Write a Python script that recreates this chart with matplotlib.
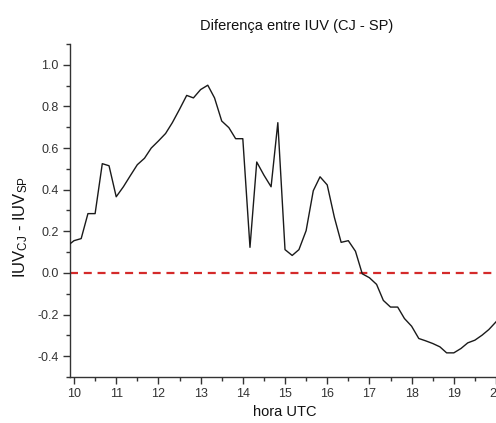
import matplotlib
matplotlib.use("Agg")
import matplotlib.pyplot as plt
from matplotlib.ticker import MultipleLocator

plt.rcParams['font.family'] = ['Liberation Sans', 'DejaVu Sans']
plt.rcParams['mathtext.fontset'] = 'custom'
plt.rcParams['mathtext.rm'] = 'Liberation Sans'
plt.rcParams['mathtext.it'] = 'Liberation Sans'

hours = [9.83, 10.00, 10.17, 10.33, 10.50, 10.67, 10.83, 11.00, 11.17, 11.33,
         11.50, 11.67, 11.83, 12.00, 12.17, 12.33, 12.50, 12.67, 12.83, 13.00,
         13.17, 13.33, 13.50, 13.67, 13.83, 14.00, 14.17, 14.33, 14.50, 14.67,
         14.83, 15.00, 15.17, 15.33, 15.50, 15.67, 15.83, 16.00, 16.17, 16.33,
         16.50, 16.67, 16.83, 17.00, 17.17, 17.33, 17.50, 17.67, 17.83, 18.00,
         18.17, 18.33, 18.50, 18.67, 18.83, 19.00, 19.17, 19.33, 19.50, 19.67,
         19.83, 20.00, 20.17]
diff_iuv = [0.128, 0.155, 0.165, 0.285, 0.285, 0.525, 0.515, 0.366, 0.414, 0.466,
            0.520, 0.551, 0.600, 0.634, 0.670, 0.722, 0.786, 0.853, 0.841, 0.881,
            0.902, 0.841, 0.730, 0.698, 0.645, 0.645, 0.123, 0.533, 0.470, 0.414,
            0.722, 0.112, 0.084, 0.112, 0.203, 0.395, 0.462, 0.423, 0.267, 0.147,
            0.155, 0.104, -0.004, -0.023, -0.055, -0.132, -0.164, -0.164, -0.219, -0.256,
            -0.315, -0.326, -0.339, -0.355, -0.384, -0.384, -0.363, -0.336, -0.323, -0.299,
            -0.272, -0.235, -0.190]
zero_level = 0.0

title = "Diferença entre IUV (CJ - SP)"
xlabel = "hora UTC"
ylabel = r"IUV$_{\mathrm{CJ}}$ - IUV$_{\mathrm{SP}}$"

W, H = 496, 423
fig = plt.figure(figsize=(W / 100, H / 100), dpi=100)
xmin, xmax = 9.905, 20.3
px_per_hour = 42.2
left_px, bottom_px, top_px = 70, 377, 44
ax = fig.add_axes([left_px / W, (H - bottom_px) / H,
                   (xmax - xmin) * px_per_hour / W, (bottom_px - top_px) / H])

ax.plot(hours, diff_iuv, color='#1a1a1a', lw=1.0, zorder=3)
ax.axhline(zero_level, color='#d42a2a', lw=1.6, dashes=(3.6, 2.6), zorder=2)

ax.set_xlim(xmin, xmax)
ax.set_ylim(-0.5, 1.1)
ax.xaxis.set_major_locator(MultipleLocator(1))
ax.xaxis.set_minor_locator(MultipleLocator(0.5))
ax.yaxis.set_major_locator(MultipleLocator(0.2))
ax.yaxis.set_minor_locator(MultipleLocator(0.1))
ax.yaxis.set_major_formatter(matplotlib.ticker.FormatStrFormatter('%.1f'))

for s in ['top', 'right']:
    ax.spines[s].set_visible(False)
for s in ['left', 'bottom']:
    ax.spines[s].set_color('#333333')
    ax.spines[s].set_linewidth(1.0)

ax.tick_params(which='major', direction='out', length=5, width=1.0,
               colors='#333333', labelsize=9, pad=3)
ax.tick_params(which='minor', direction='out', length=3, width=1.0, colors='#333333')
ax.tick_params(axis='x', labelcolor='#333333')
ax.tick_params(axis='y', labelcolor='#333333')

fig.text(297 / W, 1 - 26 / H, title, ha='center', va='center', fontsize=10.5, color='#111111')
fig.text(285 / W, 1 - 412 / H, xlabel, ha='center', va='center', fontsize=10.5, color='#111111')
fig.text(21 / W, 1 - 227 / H, ylabel, ha='center', va='center', rotation=90,
         fontsize=12, color='#111111')

fig.savefig("out.png", dpi=100)
